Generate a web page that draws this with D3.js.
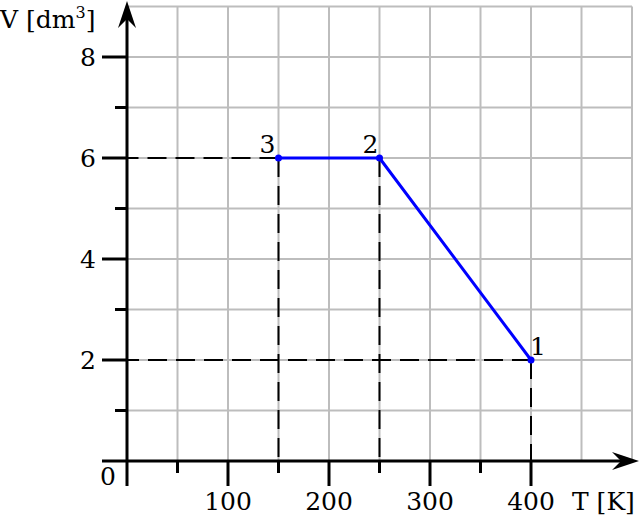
<!DOCTYPE html>
<html><head><meta charset="utf-8">
<script src="https://cdn.jsdelivr.net/npm/d3@7"></script>
<style>body{margin:0;background:#fff}svg{display:block}text{font-family:"DejaVu Serif",serif;fill:#000}</style>
</head><body>
<svg id="c" width="640" height="519"></svg>
<script>
const pointLabels = ["1", "2", "3"];
const pointT = [400, 250, 150];
const pointV = [2, 6, 6];
const xTickValues = [100, 200, 300, 400];
const yTickValues = [2, 4, 6, 8];
const xMinorTicks = [50, 150, 250, 350];
const yMinorTicks = [1, 3, 5, 7];
const xGrid = [50, 100, 150, 200, 250, 300, 350, 400, 450, 500];
const yGrid = [1, 2, 3, 4, 5, 6, 7, 8, 9];

const svg = d3.select("#c");
const x = d3.scaleLinear().domain([0, 500]).range([127, 632]);
const y = d3.scaleLinear().domain([0, 9]).range([461, 6.5]);

// grid
const g = svg.append("g").attr("stroke", "#bdbdbd").attr("stroke-width", 2);
xGrid.forEach(t => g.append("line").attr("x1", x(t)).attr("x2", x(t)).attr("y1", y(0)).attr("y2", y(9)));
yGrid.forEach(v => g.append("line").attr("x1", x(0)).attr("x2", x(500)).attr("y1", y(v)).attr("y2", y(v)));

// dashed guides
const dash = svg.append("g").attr("stroke", "#000").attr("stroke-width", 2).attr("stroke-dasharray", "19,9").attr("fill", "none");
pointT.forEach((t, i) => {
  const minT = d3.min(pointT.filter((tt, j) => pointV[j] === pointV[i]));
  if (t === minT) dash.append("line").attr("x1", x(t)).attr("y1", y(pointV[i])).attr("x2", x(0)).attr("y2", y(pointV[i]));
  dash.append("line").attr("x1", x(t)).attr("y1", y(pointV[i])).attr("x2", x(t)).attr("y2", y(0));
});

// axes lines
const ax = svg.append("g").attr("stroke", "#000").attr("stroke-width", 3);
ax.append("line").attr("x1", 102).attr("x2", 622).attr("y1", y(0)).attr("y2", y(0));
ax.append("line").attr("x1", x(0)).attr("x2", x(0)).attr("y1", 486).attr("y2", 16);
xTickValues.forEach(t => ax.append("line").attr("x1", x(t)).attr("x2", x(t)).attr("y1", y(0)).attr("y2", 486));
xMinorTicks.forEach(t => ax.append("line").attr("x1", x(t)).attr("x2", x(t)).attr("y1", y(0)).attr("y2", 473));
yTickValues.forEach(v => ax.append("line").attr("x1", 102).attr("x2", x(0)).attr("y1", y(v)).attr("y2", y(v)));
yMinorTicks.forEach(v => ax.append("line").attr("x1", 115).attr("x2", x(0)).attr("y1", y(v)).attr("y2", y(v)));

// arrowheads
svg.append("path").attr("d", `M${x(0)},1 L${x(0)+9},28 L${x(0)},19 L${x(0)-9},28 Z`).attr("fill", "#000");
svg.append("path").attr("d", `M639,${y(0)} L612,${y(0)-9} L621,${y(0)} L612,${y(0)+9} Z`).attr("fill", "#000");

// tick labels
const fs = 25;
xTickValues.forEach(t => svg.append("text").attr("x", x(t)).attr("y", 510).attr("text-anchor", "middle").attr("font-size", fs).text(t));
yTickValues.forEach(v => svg.append("text").attr("x", 96).attr("y", y(v) + 9).attr("text-anchor", "end").attr("font-size", fs).text(v));
svg.append("text").attr("x", 108).attr("y", 485).attr("text-anchor", "middle").attr("font-size", fs).text("0");

// axis titles
const yl = svg.append("text").attr("x", 0).attr("y", 28).attr("font-size", fs);
yl.append("tspan").text("V [dm");
yl.append("tspan").attr("font-size", 16).attr("dy", -10).text("3");
yl.append("tspan").attr("dy", 10).text("]");
svg.append("text").attr("x", 572).attr("y", 510).attr("font-size", fs).text("T [K]");

// process line
const line = d3.line().x((d, i) => x(pointT[i])).y((d, i) => y(pointV[i]));
svg.append("path").datum(pointT).attr("d", line).attr("fill", "none").attr("stroke", "#0000ff").attr("stroke-width", 3).attr("stroke-linejoin", "round");
pointT.forEach((t, i) => svg.append("circle").attr("cx", x(t)).attr("cy", y(pointV[i])).attr("r", 3.5).attr("fill", "#0000ff"));

// point labels
const lblDx = [7, -9, -11];
pointLabels.forEach((l, i) => svg.append("text").attr("x", x(pointT[i]) + lblDx[i]).attr("y", y(pointV[i]) - 5).attr("text-anchor", "middle").attr("font-size", fs).text(l));
</script>
</body></html>
